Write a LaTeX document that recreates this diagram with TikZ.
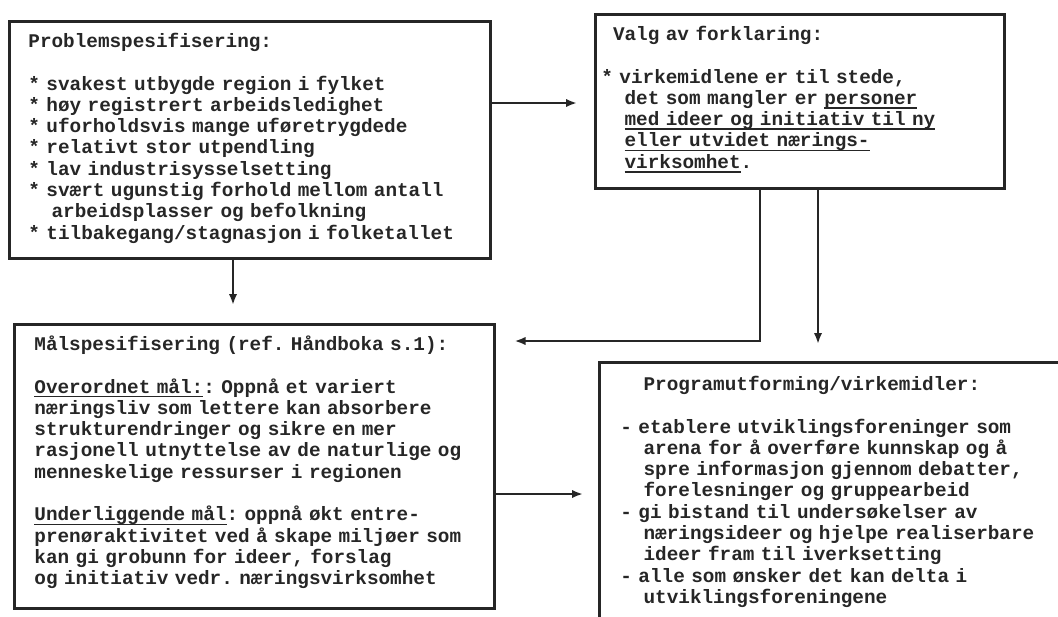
\documentclass[tikz,border=0pt]{standalone}
\usepackage{fontspec}
\setmainfont{Liberation Mono}
\usetikzlibrary{arrows.meta}
\definecolor{ink}{HTML}{262626}
\newcommand\twosp{\hspace*{1.2em}}
\newcommand\onesp{\hspace*{0.6em}}
\newcommand\bul{\leavevmode\hbox{*}}
\newcommand\myul[1]{\leavevmode\setbox0\hbox{#1}\rlap{\vrule height -1.4pt depth 2.2pt width \wd0}\box0}
\begin{document}
\frenchspacing
\begin{tikzpicture}[x=0.5pt,y=-0.5pt,
  box/.style={draw=ink, line width=1.25pt, rectangle, inner sep=0pt, anchor=north west},
  txt/.style={anchor=north west, inner sep=0pt, align=left, text=ink, text width=260pt,
    font=\frenchspacing\bfseries\fontsize{9.67}{10.65}\selectfont},
  arr/.style={draw=ink, line width=1.15pt, -{Latex[length=5.5pt,width=4.2pt]}}]
\useasboundingbox (0,0) rectangle (1058,616);
\clip (0,0) rectangle (1058,616);

% boxes
\node[box, minimum width=240.5pt, minimum height=118.5pt] (b1) at (8,20) {};
\node[box, minimum width=204.5pt, minimum height=87pt] (b2) at (594,13) {};
\node[box, minimum width=240pt, minimum height=142pt] (b3) at (13,323) {};
\node[box, minimum width=251pt, minimum height=150pt] (b4) at (598,361) {};

% texts
\node[txt] (t1) at (28,32.1) {\strut Problemspesifisering:\\[10.65pt]
\bul{} svakest utbygde region i fylket\\
\bul{} høy registrert arbeidsledighet\\
\bul{} uforholdsvis mange uføretrygdede\\
\bul{} relativt stor utpendling\\
\bul{} lav industrisysselsetting\\
\bul{} svært ugunstig forhold mellom antall\\
\twosp arbeidsplasser og befolkning\\
\bul{} tilbakegang/stagnasjon i folketallet};

\node[txt] (t2) at (601,25.1) {\strut\onesp Valg av forklaring:\\[10.65pt]
\bul{} virkemidlene er til stede,\\
\twosp det som mangler er \myul{personer}\\
\twosp\myul{med ideer og initiativ til ny}\\
\twosp\myul{eller utvidet nærings-}\\
\twosp\myul{virksomhet}.};

\node[txt] (t3) at (34,335.1) {\strut Målspesifisering (ref. Håndboka s.1):\\[10.65pt]
\myul{Overordnet mål:}: Oppnå et variert\\
næringsliv som lettere kan absorbere\\
strukturendringer og sikre en mer\\
rasjonell utnyttelse av de naturlige og\\
menneskelige ressurser i regionen\\[10.65pt]
\myul{Underliggende mål}: oppnå økt entre-\\
prenøraktivitet ved å skape miljøer som\\
kan gi grobunn for ideer, forslag\\
og initiativ vedr. næringsvirksomhet};

\node[txt] (t4) at (620,375.1) {\strut\twosp Programutforming/virkemidler:\\[10.65pt]
- etablere utviklingsforeninger som\\
\twosp arena for å overføre kunnskap og å\\
\twosp spre informasjon gjennom debatter,\\
\twosp forelesninger og gruppearbeid\\
- gi bistand til undersøkelser av\\
\twosp næringsideer og hjelpe realiserbare\\
\twosp ideer fram til iverksetting\\
- alle som ønsker det kan delta i\\
\twosp utviklingsforeningene};

% connectors
\coordinate (yA) at (0,103);
\coordinate (xB) at (233,0);
\coordinate (xC) at (760,0);
\coordinate (yC) at (0,341);
\coordinate (xD) at (818,0);
\coordinate (yE) at (0,494);
\draw[arr, shorten >=8.5pt] (b1.east |- yA) -- (b2.west |- yA);
\draw[arr, shorten >=9pt] (b1.south -| xB) -- (b3.north -| xB);
\draw[arr, shorten >=9.5pt] (b2.south -| xC) -- (xC |- yC) -- (b3.east |- yC);
\draw[arr, shorten >=8.5pt] (b2.south -| xD) -- (b4.north -| xD);
\draw[arr, shorten >=7.5pt] (b3.east |- yE) -- (b4.west |- yE);
\end{tikzpicture}
\end{document}
